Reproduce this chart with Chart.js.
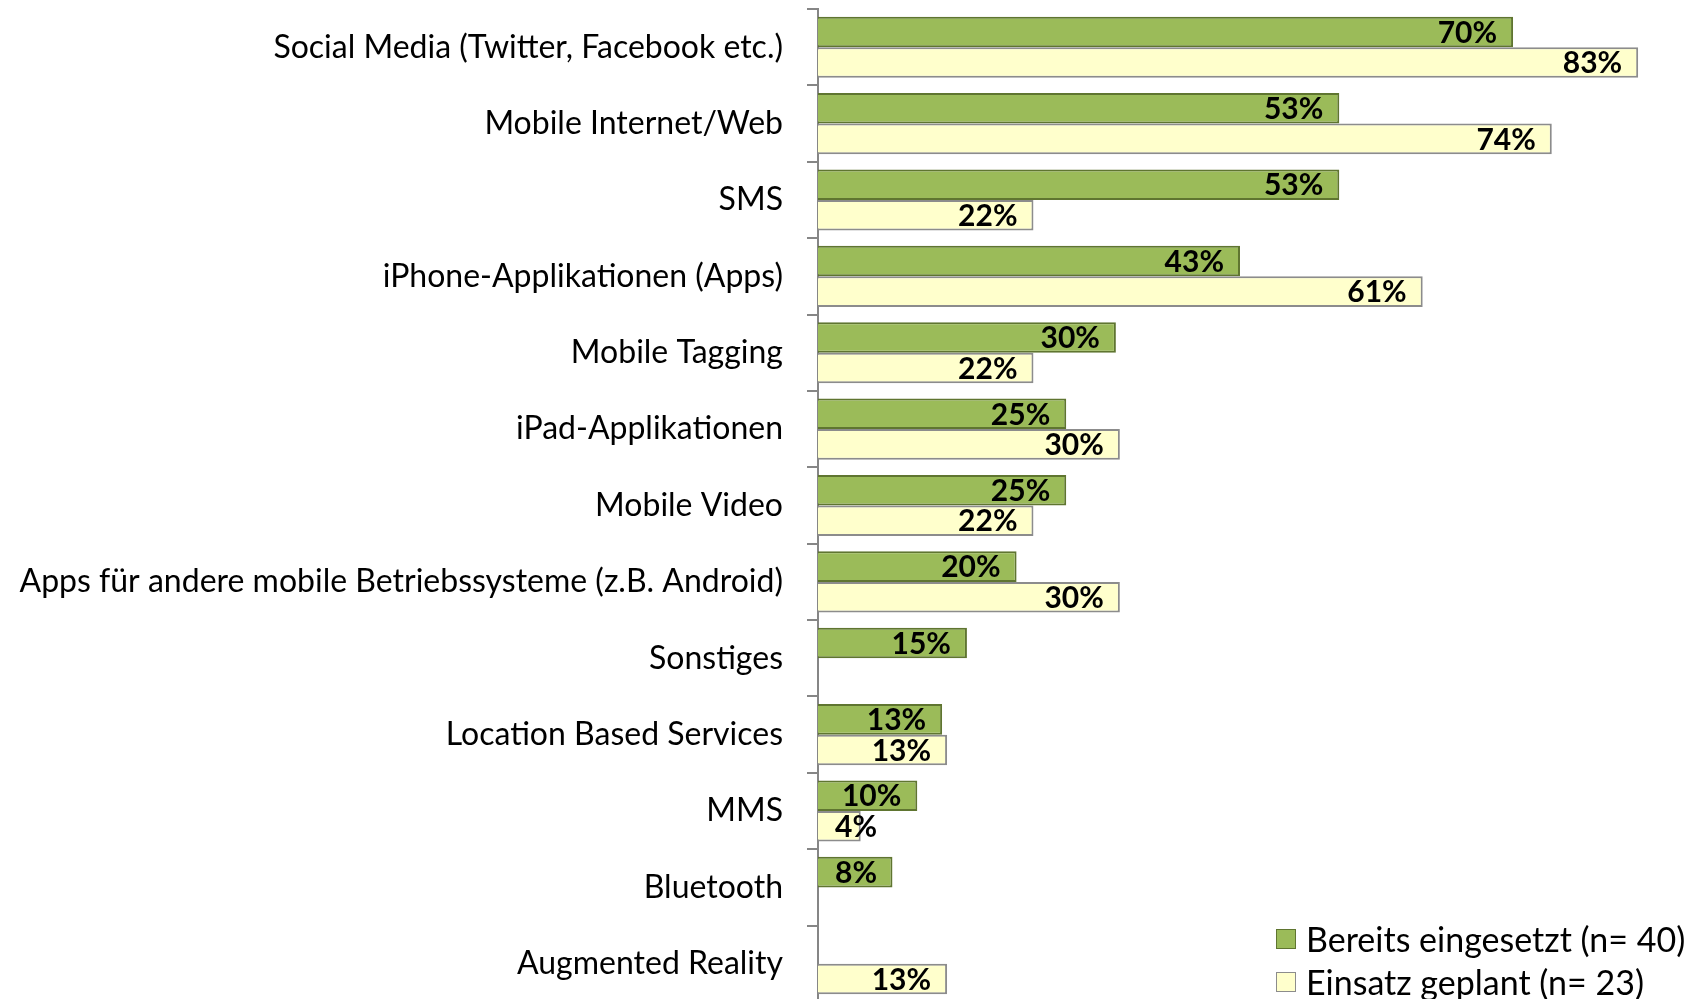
<!DOCTYPE html>
<html>
<head>
<meta charset="utf-8">
<script src="https://cdn.jsdelivr.net/npm/chart.js@4.4.1/dist/chart.umd.min.js"></script>
<style>
  html, body { margin: 0; padding: 0; background: #fff; overflow: hidden; }
  #wrap { position: relative; width: 1700px; height: 999px; overflow: hidden; }
  canvas { position: absolute; left: 0; top: 0; }
  #legend { position: absolute; left: 1276px; top: 917px; font-family: Lato, "Open Sans", sans-serif; font-size: 34px; color: #000; }
  #legend .row { display: flex; align-items: center; height: 43px; white-space: nowrap; }
  #legend .sw { width: 20px; height: 20px; margin-right: 10px; box-sizing: border-box; }
</style>
</head>
<body>
<div id="wrap">
  <canvas id="c" width="1700" height="1010"></canvas>
  <div id="legend"></div>
</div>
<script>
const categories = [
  "Social Media (Twitter, Facebook etc.)",
  "Mobile Internet/Web",
  "SMS",
  "iPhone-Applikationen (Apps)",
  "Mobile Tagging",
  "iPad-Applikationen",
  "Mobile Video",
  "Apps für andere mobile Betriebssysteme (z.B. Android)",
  "Sonstiges",
  "Location Based Services",
  "MMS",
  "Bluetooth",
  "Augmented Reality"
];
const seriesNames = ["Bereits eingesetzt (n= 40)", "Einsatz geplant (n= 23)"];
const bereits = [70, 52.5, 52.5, 42.5, 30, 25, 25, 20, 15, 12.5, 10, 7.5, null];
const geplant = [82.6, 73.9, 21.7, 60.9, 21.7, 30.4, 21.7, 30.4, null, 13.0, 4.3, null, 13.0];

const GREEN = "#9BBB59", GREEN_B = "#5F7530";
const YELLOW = "#FFFFCC", YELLOW_B = "#8C8C8C";
const LABEL_FONT = "Lato, 'Open Sans', sans-serif";

const dataLabels = {
  id: "dataLabels",
  afterDatasetsDraw(chart) {
    const ctx = chart.ctx;
    const left = chart.chartArea.left;
    ctx.save();
    ctx.font = "bold 30px " + LABEL_FONT;
    ctx.fillStyle = "#000";
    ctx.textBaseline = "middle";
    ctx.textAlign = "left";
    chart.data.datasets.forEach((ds, di) => {
      const meta = chart.getDatasetMeta(di);
      meta.data.forEach((bar, i) => {
        const v = ds.data[i];
        if (v === null || v === undefined) return;
        const txt = Math.round(v) + "%";
        const w = ctx.measureText(txt).width;
        let x = bar.x - 16 - w;
        if (x < left + 17) x = left + 17;
        ctx.fillText(txt, x, bar.y + 1);
      });
    });
    ctx.restore();
  }
};

const chart = new Chart(document.getElementById("c"), {
  type: "bar",
  data: {
    labels: categories,
    datasets: [
      { label: seriesNames[0], data: bereits, backgroundColor: GREEN, borderColor: GREEN_B, borderWidth: 2, borderSkipped: "left",
        categoryPercentage: 0.8, barPercentage: 1.0 },
      { label: seriesNames[1], data: geplant, backgroundColor: YELLOW, borderColor: YELLOW_B, borderWidth: 2, borderSkipped: "left",
        categoryPercentage: 0.8, barPercentage: 1.0 }
    ]
  },
  options: {
    indexAxis: "y",
    responsive: false,
    animation: false,
    devicePixelRatio: 1,
    layout: { padding: { top: 9, right: 38, bottom: 8, left: 0 } },
    plugins: { legend: { display: false }, tooltip: { enabled: false } },
    scales: {
      x: { display: false, min: 0, max: 85 },
      y: {
        offset: true,
        afterFit(s) { s.width = 818; s.paddingTop = 0; s.paddingBottom = 0; },
        grid: { display: true, offset: true, drawOnChartArea: false, drawTicks: true, tickLength: 11, color: "#868686", lineWidth: 2 },
        border: { display: true, color: "#868686", width: 2 },
        ticks: { color: "#000", padding: 24, font: { family: LABEL_FONT, size: 32 } }
      }
    }
  },
  plugins: [dataLabels]
});

const lg = document.getElementById("legend");
[[GREEN, GREEN_B], [YELLOW, YELLOW_B]].forEach((c, i) => {
  const row = document.createElement("div");
  row.className = "row";
  const sw = document.createElement("div");
  sw.className = "sw";
  sw.style.background = c[0];
  sw.style.border = "1.5px solid " + c[1];
  const t = document.createElement("span");
  t.textContent = seriesNames[i];
  row.appendChild(sw); row.appendChild(t);
  lg.appendChild(row);
});
</script>
</body>
</html>
